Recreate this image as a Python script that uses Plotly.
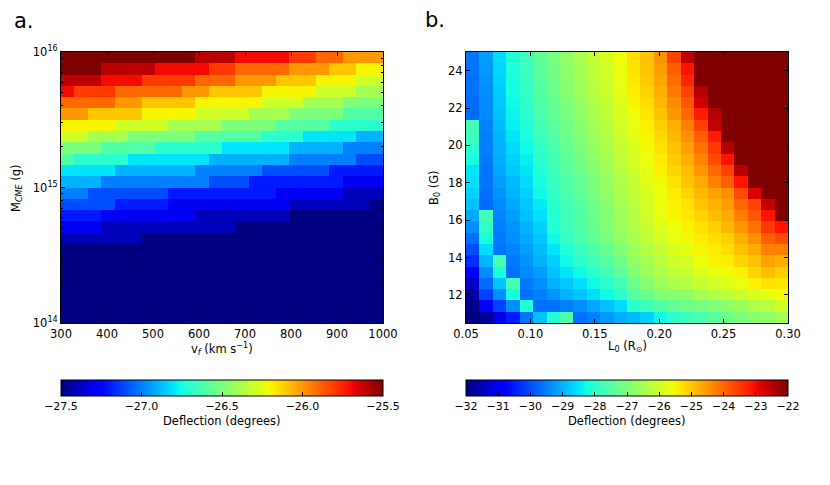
import numpy as np
import plotly.graph_objects as go

# ---- panel a: deflection vs v_f and M_CME (rows listed from top, M = 1e16, down to 1e14)
v_min, v_max = 300, 1000
logm_min, logm_max = 14, 16

deflection_a = [
    [-25.5, -25.5, -25.5, -25.5, -25.5, -25.5, -25.5, -25.5, -25.5, -25.5, -25.6, -25.6, -25.6, -25.7, -25.7, -25.7, -25.7, -25.8, -25.8, -25.9, -25.9, -26.0, -26.0, -26.0],
    [-25.5, -25.5, -25.5, -25.6, -25.6, -25.6, -25.6, -25.7, -25.7, -25.7, -25.7, -25.8, -25.8, -25.9, -25.9, -25.9, -25.9, -26.0, -26.0, -26.0, -26.1, -26.1, -26.2, -26.2],
    [-25.6, -25.6, -25.6, -25.7, -25.7, -25.7, -25.8, -25.8, -25.8, -25.8, -25.9, -25.9, -25.9, -26.0, -26.0, -26.0, -26.1, -26.1, -26.1, -26.2, -26.2, -26.2, -26.3, -26.3],
    [-25.7, -25.8, -25.8, -25.8, -25.9, -25.9, -25.9, -25.9, -25.9, -26.0, -26.0, -26.1, -26.1, -26.1, -26.1, -26.2, -26.2, -26.2, -26.2, -26.3, -26.3, -26.3, -26.4, -26.4],
    [-25.9, -25.9, -25.9, -25.9, -26.0, -26.0, -26.1, -26.1, -26.1, -26.1, -26.2, -26.2, -26.2, -26.2, -26.2, -26.3, -26.3, -26.3, -26.4, -26.4, -26.4, -26.5, -26.5, -26.5],
    [-26.0, -26.0, -26.1, -26.1, -26.1, -26.1, -26.2, -26.2, -26.2, -26.2, -26.3, -26.3, -26.3, -26.3, -26.4, -26.4, -26.4, -26.5, -26.5, -26.5, -26.5, -26.6, -26.6, -26.6],
    [-26.2, -26.2, -26.2, -26.2, -26.3, -26.3, -26.3, -26.3, -26.4, -26.4, -26.4, -26.4, -26.5, -26.5, -26.5, -26.5, -26.6, -26.6, -26.6, -26.6, -26.7, -26.7, -26.7, -26.7],
    [-26.3, -26.3, -26.4, -26.4, -26.4, -26.5, -26.5, -26.5, -26.5, -26.5, -26.6, -26.6, -26.6, -26.6, -26.6, -26.7, -26.7, -26.7, -26.8, -26.8, -26.8, -26.8, -26.9, -26.9],
    [-26.5, -26.5, -26.5, -26.6, -26.6, -26.6, -26.6, -26.7, -26.7, -26.7, -26.7, -26.7, -26.8, -26.8, -26.8, -26.8, -26.8, -26.9, -26.9, -26.9, -26.9, -27.0, -27.0, -27.0],
    [-26.6, -26.7, -26.7, -26.7, -26.7, -26.8, -26.8, -26.8, -26.8, -26.8, -26.8, -26.9, -26.9, -26.9, -26.9, -26.9, -26.9, -27.0, -27.0, -27.0, -27.0, -27.0, -27.1, -27.1],
    [-26.8, -26.8, -26.8, -26.8, -26.9, -26.9, -26.9, -26.9, -26.9, -26.9, -27.0, -27.0, -27.0, -27.0, -27.0, -27.1, -27.1, -27.1, -27.1, -27.1, -27.2, -27.2, -27.2, -27.2],
    [-26.9, -26.9, -26.9, -27.0, -27.0, -27.0, -27.0, -27.0, -27.0, -27.0, -27.0, -27.1, -27.1, -27.1, -27.2, -27.2, -27.2, -27.2, -27.2, -27.2, -27.2, -27.3, -27.3, -27.3],
    [-27.0, -27.0, -27.1, -27.1, -27.1, -27.1, -27.1, -27.1, -27.2, -27.2, -27.2, -27.2, -27.2, -27.2, -27.2, -27.2, -27.3, -27.3, -27.3, -27.3, -27.3, -27.4, -27.4, -27.4],
    [-27.1, -27.1, -27.1, -27.1, -27.2, -27.2, -27.2, -27.2, -27.3, -27.3, -27.3, -27.3, -27.3, -27.3, -27.3, -27.3, -27.3, -27.4, -27.4, -27.4, -27.4, -27.4, -27.4, -27.5],
    [-27.2, -27.2, -27.2, -27.3, -27.3, -27.3, -27.3, -27.3, -27.3, -27.3, -27.4, -27.4, -27.4, -27.4, -27.4, -27.4, -27.4, -27.5, -27.5, -27.5, -27.5, -27.5, -27.5, -27.5],
    [-27.3, -27.3, -27.3, -27.4, -27.4, -27.4, -27.4, -27.4, -27.4, -27.4, -27.4, -27.4, -27.4, -27.5, -27.5, -27.5, -27.5, -27.5, -27.5, -27.5, -27.5, -27.5, -27.5, -27.5],
    [-27.4, -27.4, -27.4, -27.4, -27.4, -27.4, -27.5, -27.5, -27.5, -27.5, -27.5, -27.5, -27.5, -27.5, -27.5, -27.5, -27.5, -27.5, -27.5, -27.5, -27.5, -27.5, -27.5, -27.5],
    [-27.5, -27.5, -27.5, -27.5, -27.5, -27.5, -27.5, -27.5, -27.5, -27.5, -27.5, -27.5, -27.5, -27.5, -27.5, -27.5, -27.5, -27.5, -27.5, -27.5, -27.5, -27.5, -27.5, -27.5],
    [-27.5, -27.5, -27.5, -27.5, -27.5, -27.5, -27.5, -27.5, -27.5, -27.5, -27.5, -27.5, -27.5, -27.5, -27.5, -27.5, -27.5, -27.5, -27.5, -27.5, -27.5, -27.5, -27.5, -27.5],
    [-27.5, -27.5, -27.5, -27.5, -27.5, -27.5, -27.5, -27.5, -27.5, -27.5, -27.5, -27.5, -27.5, -27.5, -27.5, -27.5, -27.5, -27.5, -27.5, -27.5, -27.5, -27.5, -27.5, -27.5],
    [-27.5, -27.5, -27.5, -27.5, -27.5, -27.5, -27.5, -27.5, -27.5, -27.5, -27.5, -27.5, -27.5, -27.5, -27.5, -27.5, -27.5, -27.5, -27.5, -27.5, -27.5, -27.5, -27.5, -27.5],
    [-27.5, -27.5, -27.5, -27.5, -27.5, -27.5, -27.5, -27.5, -27.5, -27.5, -27.5, -27.5, -27.5, -27.5, -27.5, -27.5, -27.5, -27.5, -27.5, -27.5, -27.5, -27.5, -27.5, -27.5],
    [-27.5, -27.5, -27.5, -27.5, -27.5, -27.5, -27.5, -27.5, -27.5, -27.5, -27.5, -27.5, -27.5, -27.5, -27.5, -27.5, -27.5, -27.5, -27.5, -27.5, -27.5, -27.5, -27.5, -27.5],
    [-27.5, -27.5, -27.5, -27.5, -27.5, -27.5, -27.5, -27.5, -27.5, -27.5, -27.5, -27.5, -27.5, -27.5, -27.5, -27.5, -27.5, -27.5, -27.5, -27.5, -27.5, -27.5, -27.5, -27.5],
]

# ---- panel b: deflection vs L0 and B0 (one list per L0 column, B0 from top = 25 G down to 10.5 G)
l_min, l_max = 0.05, 0.30
b_min, b_max = 10.5, 25.0
SAT = -21.5  # cells that are off the top of the colour scale

deflection_b = [
    [-29.6, -29.6, -29.65, -29.65, -29.7, -29.7, -27.7, -27.8, -28.0, -28.2, -28.5, -28.55, -28.7, -28.85, -29.1, -29.35, -29.65, -30.0, -30.3, -30.9, -31.4, -31.7, -31.9, -32.2],
    [-29.2, -29.25, -29.3, -29.35, -29.4, -29.4, -29.45, -29.5, -29.5, -29.55, -29.6, -29.6, -29.65, -29.7, -27.7, -27.9, -28.2, -28.6, -28.95, -29.35, -29.7, -30.1, -30.9, -31.8],
    [-28.6, -28.65, -28.7, -28.75, -28.8, -28.85, -28.9, -28.95, -29.0, -29.05, -29.1, -29.2, -29.3, -29.4, -29.45, -29.5, -29.55, -29.6, -27.7, -28.2, -28.8, -29.35, -30.1, -31.1],
    [-28.1, -28.15, -28.2, -28.25, -28.3, -28.35, -28.4, -28.5, -28.6, -28.7, -28.8, -28.9, -29.0, -29.1, -29.2, -29.3, -29.35, -29.45, -29.55, -29.65, -27.7, -28.2, -29.35, -30.5],
    [-27.75, -27.8, -27.85, -27.9, -27.95, -28.0, -28.1, -28.2, -28.3, -28.4, -28.5, -28.6, -28.7, -28.8, -28.85, -29.0, -29.1, -29.2, -29.3, -29.4, -29.55, -29.65, -28.1, -29.6],
    [-27.35, -27.4, -27.45, -27.5, -27.55, -27.6, -27.7, -27.8, -27.9, -28.0, -28.1, -28.2, -28.3, -28.45, -28.55, -28.7, -28.8, -28.9, -29.0, -29.2, -29.35, -29.5, -29.65, -28.85],
    [-27.05, -27.1, -27.15, -27.2, -27.25, -27.3, -27.4, -27.5, -27.6, -27.7, -27.75, -27.85, -27.9, -28.0, -28.05, -28.1, -28.3, -28.5, -28.7, -28.85, -29.0, -29.3, -29.65, -28.1],
    [-26.75, -26.8, -26.85, -26.9, -27.0, -27.05, -27.15, -27.2, -27.3, -27.4, -27.45, -27.55, -27.6, -27.7, -27.75, -27.8, -27.9, -28.1, -28.3, -28.5, -28.8, -29.0, -29.5, -27.55],
    [-26.45, -26.5, -26.55, -26.6, -26.7, -26.75, -26.85, -26.9, -27.0, -27.1, -27.2, -27.3, -27.35, -27.45, -27.5, -27.55, -27.6, -27.8, -28.0, -28.3, -28.55, -28.8, -29.35, -29.65],
    [-26.15, -26.2, -26.25, -26.3, -26.4, -26.45, -26.55, -26.6, -26.7, -26.8, -26.9, -27.0, -27.05, -27.15, -27.2, -27.25, -27.35, -27.55, -27.75, -28.0, -28.3, -28.55, -29.1, -29.5],
    [-25.9, -25.95, -26.0, -26.05, -26.1, -26.2, -26.25, -26.35, -26.4, -26.5, -26.6, -26.7, -26.75, -26.85, -26.9, -26.95, -27.05, -27.25, -27.45, -27.7, -28.0, -28.3, -28.85, -29.25],
    [-25.6, -25.65, -25.7, -25.75, -25.8, -25.9, -25.95, -26.05, -26.1, -26.2, -26.3, -26.4, -26.45, -26.55, -26.6, -26.65, -26.75, -26.95, -27.15, -27.4, -27.7, -28.0, -28.6, -29.05],
    [-25.25, -25.3, -25.35, -25.4, -25.5, -25.6, -25.7, -25.75, -25.85, -25.9, -26.0, -26.1, -26.15, -26.25, -26.3, -26.35, -26.45, -26.6, -26.75, -26.95, -27.2, -27.45, -28.0, -28.9],
    [-24.95, -25.0, -25.05, -25.15, -25.25, -25.35, -25.45, -25.5, -25.55, -25.65, -25.75, -25.8, -25.9, -25.95, -26.0, -26.1, -26.2, -26.35, -26.5, -26.65, -26.9, -27.2, -27.75, -28.7],
    [-24.45, -24.55, -24.65, -24.75, -24.85, -24.95, -25.1, -25.2, -25.3, -25.4, -25.45, -25.55, -25.6, -25.65, -25.7, -25.8, -25.95, -26.1, -26.25, -26.4, -26.6, -26.95, -27.5, -28.3],
    [-23.6, -23.9, -24.05, -24.2, -24.35, -24.5, -24.75, -24.85, -24.95, -25.05, -25.15, -25.3, -25.4, -25.45, -25.5, -25.6, -25.7, -25.85, -26.0, -26.2, -26.4, -26.85, -27.3, -28.0],
    [-22.55, -23.1, -23.3, -23.6, -23.8, -24.0, -24.25, -24.4, -24.6, -24.75, -24.9, -25.0, -25.15, -25.3, -25.35, -25.45, -25.55, -25.7, -25.9, -26.1, -26.3, -26.75, -27.15, -27.8],
    [SAT, SAT, SAT, -22.45, -22.7, -23.2, -23.6, -23.9, -24.1, -24.3, -24.5, -24.7, -24.85, -25.0, -25.15, -25.28, -25.4, -25.5, -25.65, -25.85, -26.1, -26.5, -27.05, -27.6],
    [SAT, SAT, SAT, SAT, SAT, -22.45, -22.6, -23.2, -23.5, -23.7, -24.0, -24.25, -24.6, -24.8, -24.9, -25.1, -25.25, -25.4, -25.5, -25.7, -25.95, -26.35, -26.95, -27.4],
    [SAT, SAT, SAT, SAT, SAT, SAT, SAT, SAT, -22.45, -23.1, -23.6, -23.9, -24.4, -24.55, -24.7, -24.85, -25.1, -25.25, -25.4, -25.55, -25.8, -26.2, -26.8, -27.2],
    [SAT, SAT, SAT, SAT, SAT, SAT, SAT, SAT, SAT, SAT, -22.45, -23.1, -23.7, -24.0, -24.25, -24.5, -24.75, -24.95, -25.15, -25.45, -25.7, -26.05, -26.65, -27.0],
    [SAT, SAT, SAT, SAT, SAT, SAT, SAT, SAT, SAT, SAT, SAT, SAT, -22.8, -23.6, -23.8, -24.1, -24.4, -24.7, -24.95, -25.15, -25.45, -25.85, -26.4, -26.85],
    [SAT, SAT, SAT, SAT, SAT, SAT, SAT, SAT, SAT, SAT, SAT, SAT, SAT, -22.6, -23.1, -23.5, -23.9, -24.25, -24.6, -24.9, -25.3, -25.7, -26.25, -26.75],
    [SAT, SAT, SAT, SAT, SAT, SAT, SAT, SAT, SAT, SAT, SAT, SAT, SAT, SAT, SAT, -23.1, -23.7, -24.25, -24.75, -25.1, -25.35, -25.55, -25.95, -26.55],
]

ticks_a_cbar = [-27.5, -27.0, -26.5, -26.0, -25.5]
ticks_b_cbar = [-32, -31, -30, -29, -28, -27, -26, -25, -24, -23, -22]
ticks_v = [300, 400, 500, 600, 700, 800, 900, 1000]
ticks_logm = [14, 15, 16]
ticks_l = [0.05, 0.10, 0.15, 0.20, 0.25, 0.30]
ticks_b = [12, 14, 16, 18, 20, 22, 24]

# page body has an 8 px margin, so the figure is drawn 8 px in and made that much smaller
OFF = 8
W, H = 830 - OFF, 485 - OFF
FONT = "DejaVu Sans"


def jet():
    # matplotlib's jet, built from its segment data
    red = [(0, 0), (0.35, 0), (0.66, 1), (0.89, 1), (1, 0.5)]
    green = [(0, 0), (0.125, 0), (0.375, 1), (0.64, 1), (0.91, 0), (1, 0)]
    blue = [(0, 0.5), (0.11, 1), (0.34, 1), (0.65, 0), (1, 0)]
    stops = sorted(set(p for seg in (red, green, blue) for p, _ in seg))
    out = []
    for s in stops:
        rgb = [np.interp(s, [p for p, _ in seg], [c for _, c in seg]) for seg in (red, green, blue)]
        out.append([s, "rgb(%d,%d,%d)" % tuple(round(255 * c) for c in rgb)])
    return out


def px_x(p):
    return (p - OFF) / W


def px_y(p):
    return 1 - (p - OFF) / H


def cbar(center, ticks, fmt):
    return dict(orientation="h", x=px_x(center), xanchor="center", y=px_y(380), yanchor="top",
                len=322 / W, lenmode="fraction", thickness=16, thicknessmode="pixels",
                xpad=0, ypad=0, outlinewidth=1, outlinecolor="black",
                tickvals=ticks, tickformat=fmt, ticks="inside", ticklen=4, tickcolor="black",
                tickfont=dict(family=FONT, size=11, color="black"))


def axis(domain, anchor, rng, ticks, **kw):
    d = dict(domain=domain, anchor=anchor, range=rng, tickvals=ticks, ticks="inside", ticklen=4,
             tickcolor="black", showline=True, linecolor="black", linewidth=1, mirror="ticks",
             showgrid=False, zeroline=False, automargin=False,
             tickfont=dict(family=FONT, size=11.5, color="black"))
    d.update(kw)
    return d


def main():
    v_edges = np.linspace(v_min, v_max, len(deflection_a[0]) + 1)
    m_edges = np.linspace(logm_min, logm_max, len(deflection_a) + 1)
    l_edges = np.linspace(l_min, l_max, len(deflection_b) + 1)
    b_edges = np.linspace(b_min, b_max, len(deflection_b[0]) + 1)

    z_a = deflection_a[::-1]
    z_b = [list(row) for row in zip(*deflection_b)][::-1]

    cs = jet()
    fig = go.Figure()
    fig.add_trace(go.Heatmap(x=v_edges, y=m_edges, z=z_a, colorscale=cs, zmin=-27.5, zmax=-25.5,
                             xaxis="x", yaxis="y", colorbar=cbar(222, ticks_a_cbar, ".1f")))
    fig.add_trace(go.Heatmap(x=l_edges, y=b_edges, z=z_b, colorscale=cs, zmin=-32, zmax=-22,
                             xaxis="x2", yaxis="y2", colorbar=cbar(627, ticks_b_cbar, "d")))

    ydom = [px_y(323), px_y(52)]
    minor_m = [np.log10(k * 10.0 ** e) for e in (14, 15) for k in range(2, 10)]
    fig.update_layout(
        width=W, height=H, margin=dict(l=0, r=0, t=0, b=0),
        paper_bgcolor="white", plot_bgcolor="white",
        font=dict(family=FONT, size=11.5, color="black"),
        xaxis=axis([px_x(61), px_x(383)], "y", [v_min, v_max], ticks_v),
        yaxis=axis(ydom, "x", [logm_min, logm_max], ticks_logm,
                   ticktext=["10<sup>%d</sup>" % t for t in ticks_logm],
                   minor=dict(tickvals=minor_m, ticks="inside", ticklen=2, tickcolor="black", showgrid=False)),
        xaxis2=axis([px_x(466), px_x(788)], "y2", [l_min, l_max], ticks_l, tickformat=".2f"),
        yaxis2=axis(ydom, "x2", [b_min, b_max], ticks_b),
    )

    notes = [
        ("a.", 12, 21, 0, 21, "left"),
        ("b.", 423, 20, 0, 21, "left"),
        ("M<sub><i>CME</i></sub> (g)", 16, 188, -90, 11.5, "center"),
        ("v<sub><i>f</i></sub> (km s<sup>−1</sup>)", 222, 349, 0, 11.5, "center"),
        ("B<sub>0</sub> (G)", 434, 188, -90, 11.5, "center"),
        ("L<sub>0</sub> (R<sub>⊙</sub>)", 627, 346, 0, 11.5, "center"),
        ("Deflection (degrees)", 222, 421, 0, 11.5, "center"),
        ("Deflection (degrees)", 627, 421, 0, 11.5, "center"),
    ]
    for text, x, y, angle, size, anchor in notes:
        fig.add_annotation(text=text, x=px_x(x), y=px_y(y), xref="paper", yref="paper",
                           xanchor=anchor, yanchor="middle", textangle=angle, showarrow=False,
                           font=dict(family=FONT, size=size, color="black"))

    fig.write_html("out.html")


if __name__ == "__main__":
    main()
